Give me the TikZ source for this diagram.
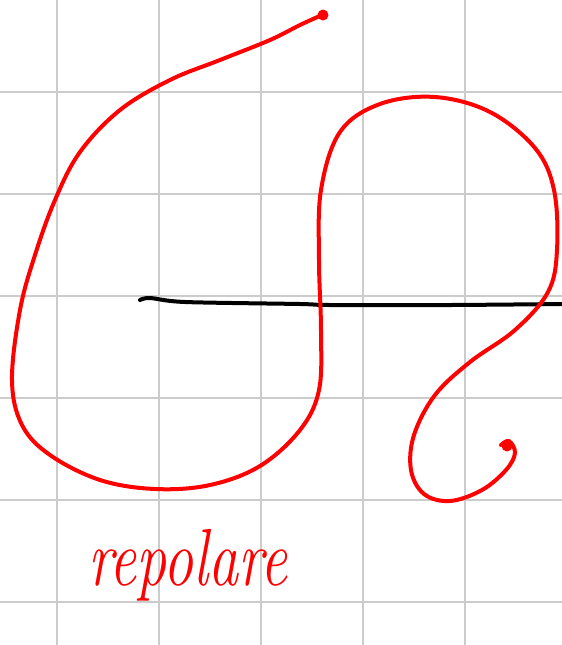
\documentclass[tikz,border=0pt]{standalone}
\usepackage{tikz}

\tikzset{
    gridline/.style={draw=black!20, line width=1.3pt},
    sketch/.style={red, line width=2pt, line cap=round, line join=round},
    axisline/.style={black, line width=2pt, line cap=round}
}

\begin{document}
\begin{tikzpicture}[x=0.5pt, y=-0.5pt]
    % Frame
    \useasboundingbox (0,0) rectangle (562,645);

    % Draw grid
    \foreach \gx in {57,159,261,363,465} {
        \draw[gridline] (\gx,0) -- (\gx,645);
    }
    \foreach \gy in {92,194,296,398,500,602} {
        \draw[gridline] (0,\gy) -- (562,\gy);
    }

    % Black line
    \coordinate (l0) at (140,300);
    \coordinate (l1) at (562,304);
    \draw[axisline] plot[smooth, tension=0.5] coordinates {(l0) (150,298) (185,302) (300,304) (330,305) (450,305) (l1)};

    % Red curve
    \coordinate (c0) at (322,15);
    \coordinate (c1) at (501,445);
    \draw[sketch] plot[smooth, tension=0.6] coordinates {
        (c0) (300,25) (270,40) (220,60) (170,80)
        (120,110) (80,152) (55,200) (35,255)
        (20,310) (12,380) (22,425) (50,455)
        (100,480) (155,489) (210,485) (260,466) (300,430)
        (319,390) (321,330) (319,260) (321,190)
        (340,132) (380,104) (435,97) (490,112)
        (535,148) (554,190) (557,250) (548,292)
        (515,330) (470,362) (435,395) (414,435) (411,470)
        (424,494) (450,501) (482,490) (506,470) (515,453)
        (509,441) (c1)};
    \fill[red] (323,15) circle (5.5);
    \fill[red] (507,446) circle (5.5);

    % Label
    \node[red, inner sep=0pt, yscale=1.35] (lbl) at (188,565)
        {\fontsize{30}{30}\selectfont\itshape repolare};
\end{tikzpicture}
\end{document}
